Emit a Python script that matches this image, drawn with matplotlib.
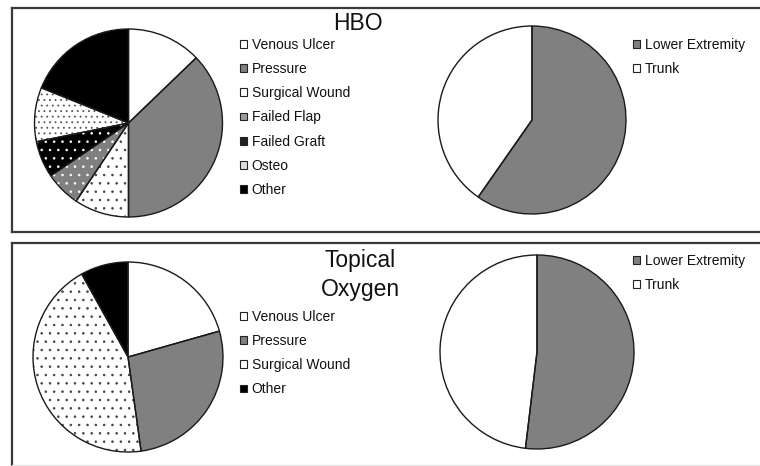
import matplotlib
matplotlib.use("Agg")
import matplotlib.pyplot as plt
from matplotlib.patches import Patch
from matplotlib.lines import Line2D

# figure size in pixels (dpi 100)
W, H = 760, 466

# ── data (percent of patients) ──
hbo_types = ["Venous Ulcer", "Pressure", "Surgical Wound", "Failed Flap",
             "Failed Graft", "Osteo", "Other"]
hbo_type_pct = [12.8, 37.2, 9.4, 6.1, 6.3, 9.3, 18.9]

topical_types = ["Venous Ulcer", "Pressure", "Surgical Wound", "Other"]
topical_type_pct = [20.6, 27.2, 44.1, 8.1]

locations = ["Lower Extremity", "Trunk"]
hbo_loc_pct = [59.7, 40.3]
topical_loc_pct = [51.9, 48.1]

# fill, hatch, hatch colour, legend swatch colour
STYLE = {
    "Venous Ulcer":    ("white", "", "black", "white"),
    "Pressure":        ("#808080", "", "black", "#808080"),
    "Surgical Wound":  ("white", "..", "#444444", "white"),
    "Failed Flap":     ("#808080", "..", "white", "#9a9a9a"),
    "Failed Graft":    ("black", "..", "white", "#202020"),
    "Osteo":           ("white", "...", "#555555", "#dddddd"),
    "Other":           ("black", "", "black", "black"),
    "Lower Extremity": ("#808080", "", "black", "#808080"),
    "Trunk":           ("white", "", "black", "white"),
}

plt.rcParams["font.family"] = ["Liberation Sans", "DejaVu Sans"]
plt.rcParams["hatch.linewidth"] = 0.6

fig = plt.figure(figsize=(W / 100, H / 100), dpi=100)


def fig_xy(x, y):
    return x / W, 1 - y / H


def draw_pie(cx, cy, r, labels, values):
    size = 2.1 * r
    ax = fig.add_axes([(cx - size / 2) / W, 1 - (cy + size / 2) / H, size / W, size / H])
    faces = [STYLE[l][0] for l in labels]
    wedges, _ = ax.pie(values, colors=faces, startangle=90, counterclock=False,
                       wedgeprops=dict(linewidth=0))
    for w, l in zip(wedges, labels):
        w.set_hatch(STYLE[l][1])
        w.set_edgecolor(STYLE[l][2])
        w.set_linewidth(0)
    ax.pie(values, startangle=90, counterclock=False,
           wedgeprops=dict(fill=False, edgecolor="#1a1a1a", linewidth=1.0))
    ax.set_xlim(-1.05, 1.05)
    ax.set_ylim(-1.05, 1.05)
    ax.axis("off")
    return ax


def draw_legend(x, y, labels):
    handles = [Patch(facecolor=STYLE[l][3], edgecolor="#222222", linewidth=0.8)
               for l in labels]
    fig.legend(handles, labels, loc="upper left", bbox_to_anchor=fig_xy(x, y),
               frameon=False, fontsize=10, borderpad=0, borderaxespad=0,
               handlelength=0.5, handleheight=0.5, handletextpad=0.35,
               labelspacing=0.73, labelcolor="#111111")


# panel frames
frame = dict(color="#3a3a3a", linewidth=1.6, transform=fig.transFigure)
for y0, y1 in [(8, 232), (243, 465)]:
    fig.add_artist(Line2D([12 / W, 12 / W], [1 - y0 / H, 1 - y1 / H], **frame))
    fig.add_artist(Line2D([12 / W, 1.0], [1 - y0 / H, 1 - y0 / H], **frame))
fig.add_artist(Line2D([12 / W, 1.0], [1 - 232 / H, 1 - 232 / H], **frame))
fig.add_artist(Line2D([12 / W, 1.0], [1 - 465 / H, 1 - 465 / H],
                      color="#e6e6e6", linewidth=1.0, transform=fig.transFigure))

# HBO panel
draw_pie(128.5, 123, 94, hbo_types, hbo_type_pct)
draw_pie(532, 120, 94, locations, hbo_loc_pct)
draw_legend(240, 38, hbo_types)
draw_legend(633, 38, locations)
fig.text(*fig_xy(358, 23), "HBO", fontsize=16.5, ha="center", va="center", color="#111111")

# Topical oxygen panel
draw_pie(128, 357, 95, topical_types, topical_type_pct)
draw_pie(537, 352, 97, locations, topical_loc_pct)
draw_legend(240, 310, topical_types)
draw_legend(633, 254, locations)
fig.text(*fig_xy(360, 275), "Topical\nOxygen", fontsize=16.5, ha="center", va="center",
         linespacing=1.3, color="#111111")

fig.savefig("out.png", dpi=100)
